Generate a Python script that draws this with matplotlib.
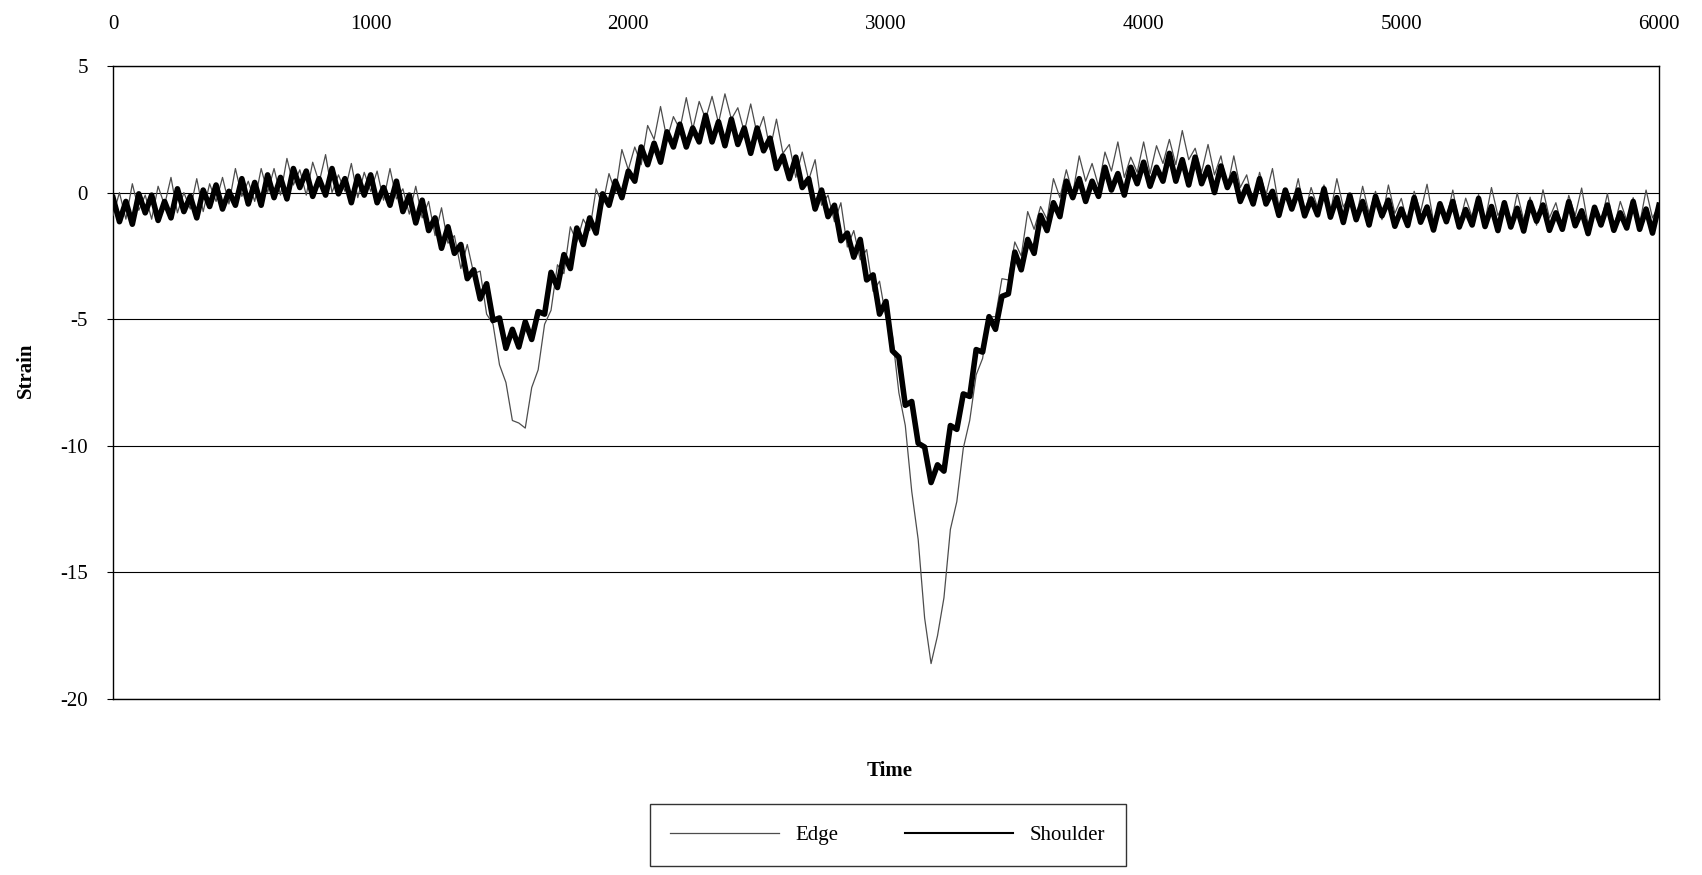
import numpy as np
import matplotlib.pyplot as plt

plt.rcParams["font.family"] = ["Liberation Serif", "DejaVu Serif"]
plt.rcParams["axes.unicode_minus"] = False

# sampling grid (time), one reading every 25 units
time = np.arange(0, 6001, 25)

# Edge strain readings
edge = [
    -0.9, 0.0, -1.05, 0.35, -0.7, -0.1, -1.05, 0.25, -0.5, 0.6, -0.8, 0.0,
    -0.65, 0.55, -0.75, 0.35, -0.35, 0.6, -0.45, 0.95, -0.15, 0.45, -0.35, 0.95,
    0.0, 0.95, -0.1, 1.35, 0.3, 0.9, -0.1, 1.2, 0.4, 1.5, 0.0, 0.7,
    0.05, 1.15, -0.2, 0.8, 0.05, 0.85, -0.3, 0.95, -0.25, 0.15, -0.85, 0.25,
    -1.0, -0.35, -1.7, -0.6, -2.0, -1.7, -3.0, -2.05, -3.2, -3.1, -4.8, -5.2,
    -6.8, -7.5, -9.0, -9.1, -9.3, -7.7, -7.0, -5.2, -4.65, -2.85, -3.2, -1.35,
    -1.95, -1.05, -1.5, 0.15, -0.5, 0.75, 0.0, 1.7, 0.9, 1.8, 1.1, 2.65,
    2.1, 3.4, 2.1, 3.0, 2.5, 3.75, 2.5, 3.6, 2.9, 3.8, 2.75, 3.9,
    2.9, 3.35, 2.4, 3.5, 2.3, 3.0, 1.7, 2.9, 1.55, 1.9, 0.6, 1.6,
    0.5, 1.3, -0.5, -0.1, -1.15, -0.4, -2.15, -1.5, -2.65, -2.25, -3.9, -3.5,
    -4.95, -5.65, -7.9, -9.2, -11.8, -13.7, -16.8, -18.6, -17.5, -16.0, -13.3, -12.2,
    -10.1, -9.0, -7.2, -6.55, -4.9, -4.9, -3.4, -3.45, -1.95, -2.5, -0.75, -1.45,
    -0.55, -1.05, 0.55, -0.2, 0.9, -0.05, 1.45, 0.45, 1.15, 0.25, 1.6, 0.85,
    2.0, 0.6, 1.4, 0.8, 2.0, 0.75, 1.85, 1.15, 2.1, 1.1, 2.45, 1.3,
    1.75, 0.8, 1.9, 0.7, 1.45, 0.2, 1.45, 0.2, 0.7, -0.4, 0.8, -0.1,
    0.95, -0.55, 0.15, -0.55, 0.55, -0.83, 0.2, -0.58, 0.3, -0.78, 0.55, -0.57,
    -0.1, -0.97, 0.25, -0.82, 0.05, -1.07, 0.3, -0.82, -0.23, -1.24, 0.05, -0.76,
    0.33, -1.13, -0.39, -1.05, 0.1, -1.26, -0.22, -0.97, -0.08, -1.14, 0.2, -0.9,
    -0.41, -1.27, -0.02, -1.08, -0.18, -1.29, 0.11, -1.0, -0.4, -1.4, -0.11, -0.91,
    0.18, -1.27, -0.53, -1.18, -0.04, -1.39, -0.35, -1.1, -0.2, -1.25, 0.1, -1.0,
    -0.5,
]

# Shoulder strain readings
shoulder = [
    -0.2, -1.15, -0.35, -1.25, -0.05, -0.8, -0.1, -1.1, -0.35, -1.0, 0.15, -0.75,
    -0.15, -1.0, 0.1, -0.55, 0.3, -0.65, 0.05, -0.5, 0.55, -0.45, 0.4, -0.5,
    0.7, -0.2, 0.6, -0.25, 0.95, 0.2, 0.85, -0.15, 0.55, -0.1, 0.95, -0.05,
    0.55, -0.4, 0.65, -0.1, 0.7, -0.4, 0.2, -0.5, 0.45, -0.75, -0.1, -1.2,
    -0.3, -1.5, -1.0, -2.2, -1.35, -2.4, -2.05, -3.4, -3.05, -4.2, -3.6, -5.05,
    -4.95, -6.15, -5.4, -6.1, -5.1, -5.8, -4.7, -4.8, -3.15, -3.75, -2.45, -3.0,
    -1.4, -2.05, -1.0, -1.6, -0.05, -0.5, 0.45, -0.2, 0.85, 0.45, 1.8, 1.1,
    1.95, 1.2, 2.4, 1.8, 2.7, 1.8, 2.55, 2.0, 3.05, 2.0, 2.8, 1.85,
    2.9, 1.9, 2.55, 1.55, 2.55, 1.65, 2.15, 0.95, 1.45, 0.55, 1.4, 0.2,
    0.55, -0.65, 0.1, -0.95, -0.5, -1.9, -1.6, -2.55, -1.85, -3.45, -3.25, -4.8,
    -4.3, -6.25, -6.5, -8.4, -8.25, -9.9, -10.05, -11.45, -10.75, -11.0, -9.2, -9.35,
    -7.95, -8.05, -6.2, -6.3, -4.9, -5.4, -4.1, -4.0, -2.35, -3.05, -1.85, -2.4,
    -0.9, -1.5, -0.4, -0.95, 0.45, -0.2, 0.55, -0.35, 0.45, -0.15, 1.0, 0.1,
    0.75, -0.1, 1.0, 0.35, 1.2, 0.25, 1.0, 0.45, 1.55, 0.45, 1.3, 0.3,
    1.4, 0.35, 1.0, 0.0, 1.05, 0.2, 0.75, -0.35, 0.25, -0.45, 0.55, -0.45,
    0.05, -0.9, 0.1, -0.65, 0.1, -0.92, -0.25, -0.88, 0.15, -0.97, -0.2, -1.18,
    -0.1, -1.07, -0.35, -1.28, -0.15, -0.92, -0.3, -1.33, -0.65, -1.3, -0.2, -1.17,
    -0.57, -1.48, -0.44, -1.15, -0.35, -1.36, -0.67, -1.28, -0.23, -1.34, -0.55, -1.5,
    -0.4, -1.36, -0.62, -1.52, -0.38, -1.13, -0.49, -1.49, -0.8, -1.45, -0.36, -1.31,
    -0.72, -1.62, -0.58, -1.28, -0.49, -1.49, -0.8, -1.4, -0.35, -1.45, -0.65, -1.6,
    -0.5,
]

y_ticks = [5, 0, -5, -10, -15, -20]
x_ticks = [0, 1000, 2000, 3000, 4000, 5000, 6000]

fig = plt.figure(figsize=(17.02, 8.75), dpi=100)
ax = fig.add_axes([0.0664, 0.2011, 0.9083, 0.7235])

ax.plot(time, edge, color="0.3", lw=0.9, label="Edge", zorder=3)
ax.plot(time, shoulder, color="black", lw=4.0, label="Shoulder", zorder=4)

ax.set_xlim(0, 6000)
ax.set_ylim(-20, 5)
ax.set_xticks(x_ticks)
ax.set_yticks(y_ticks)

# x labels sit above the plot
ax.xaxis.tick_top()
ax.tick_params(axis="x", length=0, pad=23, labelsize=15)
ax.tick_params(axis="y", length=4, pad=14, labelsize=15, direction="out")

ax.yaxis.grid(True, color="black", lw=0.8)
ax.set_axisbelow(True)
for s in ax.spines.values():
    s.set_linewidth(1.0)
    s.set_color("black")

ax.set_ylabel("Strain", fontsize=15, fontweight="bold")
ax.yaxis.set_label_coords(-0.050, 0.52)
ax.set_xlabel("Time", fontsize=15, fontweight="bold")
ax.xaxis.set_label_position("bottom")
ax.xaxis.set_label_coords(0.5026, -0.098)

leg = fig.legend(
    loc="center",
    bbox_to_anchor=(0.5217, 0.0457),
    ncol=2,
    fontsize=15,
    frameon=True,
    fancybox=False,
    edgecolor="black",
    handlelength=5.2,
    columnspacing=3.2,
    borderpad=1.0,
)
leg.get_frame().set_linewidth(1.0)
leg.get_lines()[1].set_linewidth(1.5)

fig.savefig("out.png", dpi=100)
